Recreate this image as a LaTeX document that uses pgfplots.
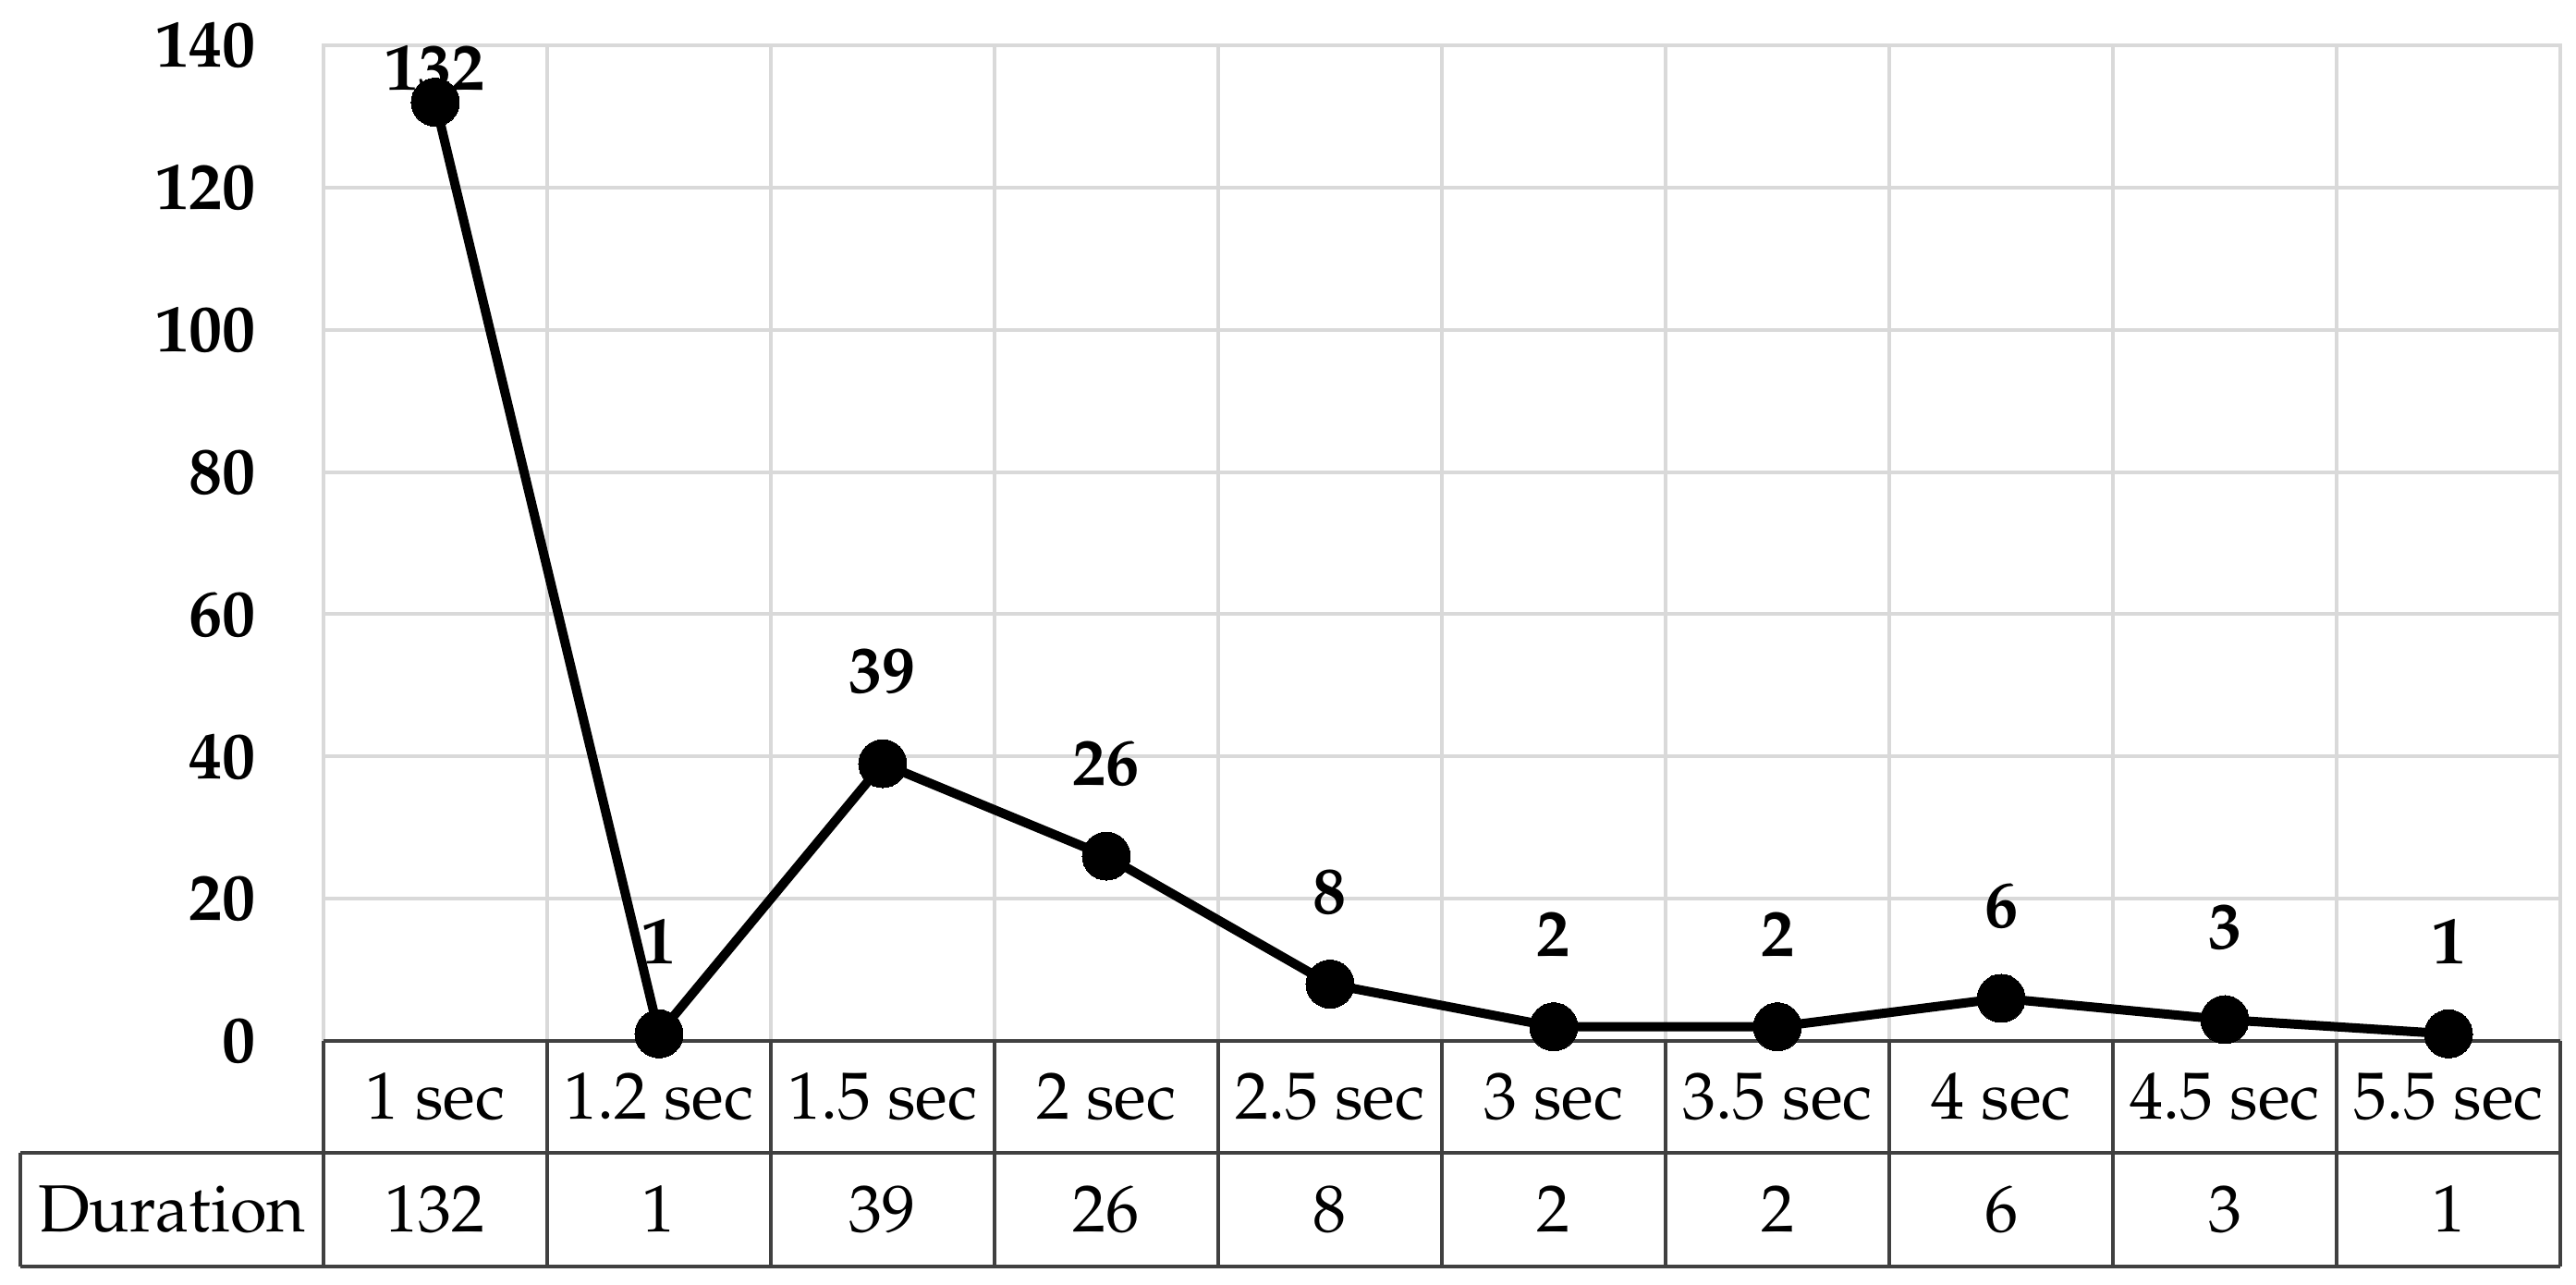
\documentclass[border=0pt]{standalone}
\usepackage[T1]{fontenc}
\usepackage{mathpazo}
\usepackage{pgfplots}
\usepackage{pgfplotstable}
\pgfplotsset{compat=1.18}

% x = category index, dy = label offset above the point (mm)
\pgfplotstableread[col sep=comma]{
x,label,dur,dy
0,1 sec,132,3.7
1,1.2 sec,1,10
2,1.5 sec,39,10
3,2 sec,26,10
4,2.5 sec,8,10
5,3 sec,2,10
6,3.5 sec,2,10
7,4 sec,6,10
8,4.5 sec,3,10
9,5.5 sec,1,10
}\durdata

\definecolor{gridgray}{HTML}{D9D9D9}
\definecolor{tblgray}{HTML}{404040}
\newcommand\cf{\fontsize{20.5}{24}\selectfont}

\begin{document}
\begin{tikzpicture}
\begin{axis}[
 scale only axis, width=242mm, height=107.7mm,
 xmin=-0.5, xmax=9.5, ymin=0, ymax=140,
 xtick={-0.5,0.5,...,9.5}, xticklabels={},
 ytick={0,20,...,140},
 xmajorgrids, ymajorgrids, grid style={gridgray, line width=0.4mm},
 major tick length=0pt,
 axis line style={gridgray, line width=0.4mm},
 yticklabel style={anchor=east, inner sep=0pt, xshift=-7.3mm, font=\cf\bfseries},
 /pgf/number format/assume math mode=true,
 clip=false,
 font=\cf,
]
% picture frame, same proportions as the reference
\path (axis cs:-1.946,146.37) rectangle (axis cs:9.570,-34.19);

% data table under the plot
\draw[tblgray, line width=0.35mm] (axis cs:-0.5,0) -- (axis cs:9.5,0);
\draw[tblgray, line width=0.35mm] (axis cs:-1.855,-15.73) -- (axis cs:9.5,-15.73);
\draw[tblgray, line width=0.35mm] (axis cs:-1.855,-31.72) -- (axis cs:9.5,-31.72);
\draw[tblgray, line width=0.35mm] (axis cs:-1.855,-15.73) -- (axis cs:-1.855,-31.72);
\pgfplotsinvokeforeach{-0.5,0.5,1.5,2.5,3.5,4.5,5.5,6.5,7.5,8.5,9.5}{
  \draw[tblgray, line width=0.35mm] (axis cs:#1,0) -- (axis cs:#1,-31.72);
}
\node[font=\cf] at (axis cs:-1.178,-23.66) {Duration};

\addplot[draw=none, nodes near coords={\pgfplotspointmeta}, point meta=explicit symbolic,
  every node near coord/.append style={anchor=center, inner sep=0pt, font=\cf}]
  table[x=x, y expr=-7.8, meta=label] {\durdata};
\addplot[draw=none, nodes near coords, point meta=explicit,
  every node near coord/.append style={anchor=center, inner sep=0pt, font=\cf}]
  table[x=x, y expr=-23.66, meta=dur] {\durdata};

\addplot[black, line width=1.0mm, mark=*, mark size=2.6mm,
  mark options={solid, fill=black, line width=0pt},
  nodes near coords, point meta=explicit,
  visualization depends on={\thisrow{dy}\as\dy},
  every node near coord/.append style={anchor=center, inner sep=0pt,
    yshift=\dy mm, font=\cf\bfseries}]
  table[x=x, y=dur, meta=dur] {\durdata};
\end{axis}
\end{tikzpicture}
\end{document}
